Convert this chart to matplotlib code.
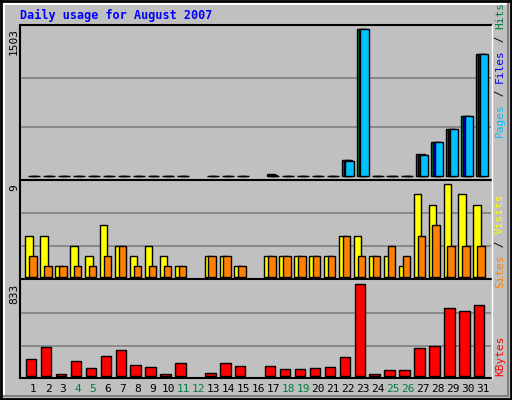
import matplotlib
matplotlib.use("Agg")
import matplotlib.pyplot as plt

days = list(range(1, 32))
hits  = [4,4,4,4,4,4,4,4,4,4,4,0,4,4,4,0,20,4,4,4,4,164,1503,4,4,4,225,348,482,615,1250]
files = [3,3,3,3,3,3,3,3,3,3,3,0,3,3,3,0,8,3,3,3,3,160,1503,3,3,3,220,348,482,615,1250]
pages = [3,3,3,3,3,3,3,3,3,3,3,0,3,3,3,0,5,3,3,3,3,150,1503,3,3,3,212,348,482,615,1250]
visits = [4,4,1,3,2,5,3,2,3,2,1,0,2,2,1,0,2,2,2,2,2,4,4,2,2,1,8,7,9,8,7]
sites  = [2,1,1,1,1,2,3,1,1,1,1,0,2,2,1,0,2,2,2,2,2,4,2,2,3,2,4,5,3,3,3]
kbytes = [151,257,15,133,67,179,233,97,76,15,115,0,24,115,88,0,88,61,61,70,79,170,833,15,52,52,251,270,615,588,642]
weekend = [4,5,11,12,18,19,25,26]

BG = "#C0C0C0"
W, H = 512, 400
fig = plt.figure(figsize=(5.12, 4.0), dpi=100)
fig.patch.set_facecolor(BG)
mono = "DejaVu Sans Mono"

def ax_px(x0, y0, x1, y1):
    return fig.add_axes([x0 / W, 1 - y1 / H, (x1 - x0) / W, (y1 - y0) / H])

xl = (1 - 13 / 15, 31 + 10 / 15)

def style(ax, ylim, grid):
    ax.set_xlim(*xl); ax.set_ylim(*ylim)
    ax.set_facecolor(BG)
    for s in ax.spines.values():
        s.set_visible(False)
    ax.set_xticks([]); ax.set_yticks([])
    for g in grid:
        ax.axhline(g, color="#808080", lw=1.2, zorder=0)

a1 = ax_px(20, 25, 491, 180)
style(a1, (-41, 1547), [501, 1002])
for d, h, f, p in zip(days, hits, files, pages):
    if h == 0:
        continue
    a1.bar(d - 0.33, h, width=0.55, align="edge", color="#008040", edgecolor="black", lw=1, zorder=2)
    a1.bar(d - 0.2, f, width=0.55, align="edge", color="#0000FF", edgecolor="black", lw=1, zorder=3)
    a1.bar(d - 0.08, p, width=0.55, align="edge", color="#00C0FF", edgecolor="black", lw=1, zorder=4)

a2 = ax_px(20, 180, 491, 279)
style(a2, (-0.22, 9.39), [3, 6.2])
for d, v, s in zip(days, visits, sites):
    if v:
        a2.bar(d - 0.51, v, width=0.5, align="edge", color="#FFFF00", edgecolor="black", lw=1, zorder=2)
    if s:
        a2.bar(d - 0.25, s, width=0.5, align="edge", color="#FF8000", edgecolor="black", lw=1, zorder=3)

a3 = ax_px(20, 280, 491, 378)
style(a3, (-21, 869), [270, 570])
for d, k in zip(days, kbytes):
    if k:
        a3.bar(d - 0.47, k, width=0.7, align="edge", color="#FF0000", edgecolor="black", lw=1, zorder=2)

def hline(y, x0, x1, c, lw=1.5):
    fig.add_artist(plt.Line2D([x0 / W, x1 / W], [1 - y / H, 1 - y / H], color=c, lw=lw))
def vline(x, y0, y1, c, lw=1.5):
    fig.add_artist(plt.Line2D([x / W, x / W], [1 - y0 / H, 1 - y1 / H], color=c, lw=lw))

hline(1, 0, 512, "black", 2); vline(1, 0, 400, "black", 2)
hline(399, 0, 512, "black", 2); vline(511, 0, 400, "black", 2)
hline(4, 4, 508, "white", 1.5); vline(4, 4, 396, "white", 1.5)
hline(396, 4, 508, "#808080", 1.5); vline(508, 4, 396, "#808080", 1.5)
hline(25, 20, 491, "black"); vline(20, 25, 378, "black")
hline(180, 20, 491, "black"); hline(279, 20, 491, "black")
hline(378, 20, 491, "black"); vline(492, 25, 378, "white", 1)

fig.text(20 / W, 1 - 15 / H, "Daily usage for August 2007", color="#0000FF", family=mono,
         fontsize=8.5, fontweight="bold", va="center", ha="left")
for y, t in [(28, "1503"), (184, "9"), (284, "833")]:
    fig.text(14 / W, 1 - y / H, t, rotation=90, family=mono, fontsize=8, va="top", ha="center")

renderer = fig.canvas.get_renderer()
def rlabel(y_bottom, parts):
    y = y_bottom
    for t, c in parts:
        txt = fig.text(500 / W, 1 - y / H, t, rotation=90, family=mono, fontsize=8,
                       color=c, va="bottom", ha="center")
        ext = txt.get_window_extent(renderer)
        y -= ext.height
rlabel(137, [("Pages", "#00C0FF"), (" / ", "#000000"), ("Files", "#0000FF"), (" / ", "#000000"), ("Hits", "#008040")])
rlabel(288, [("Sites", "#FF8000"), (" / ", "#000000"), ("Visits", "#FFFF00")])
rlabel(376, [("KBytes", "#FF0000")])

for d in days:
    c = "#008040" if d in weekend else "black"
    x = 20 + (d - xl[0]) * 15
    fig.text(x / W, 1 - 389 / H, str(d), color=c, family=mono, fontsize=8, ha="center", va="center")

fig.savefig("out.png", dpi=100, facecolor=BG)
